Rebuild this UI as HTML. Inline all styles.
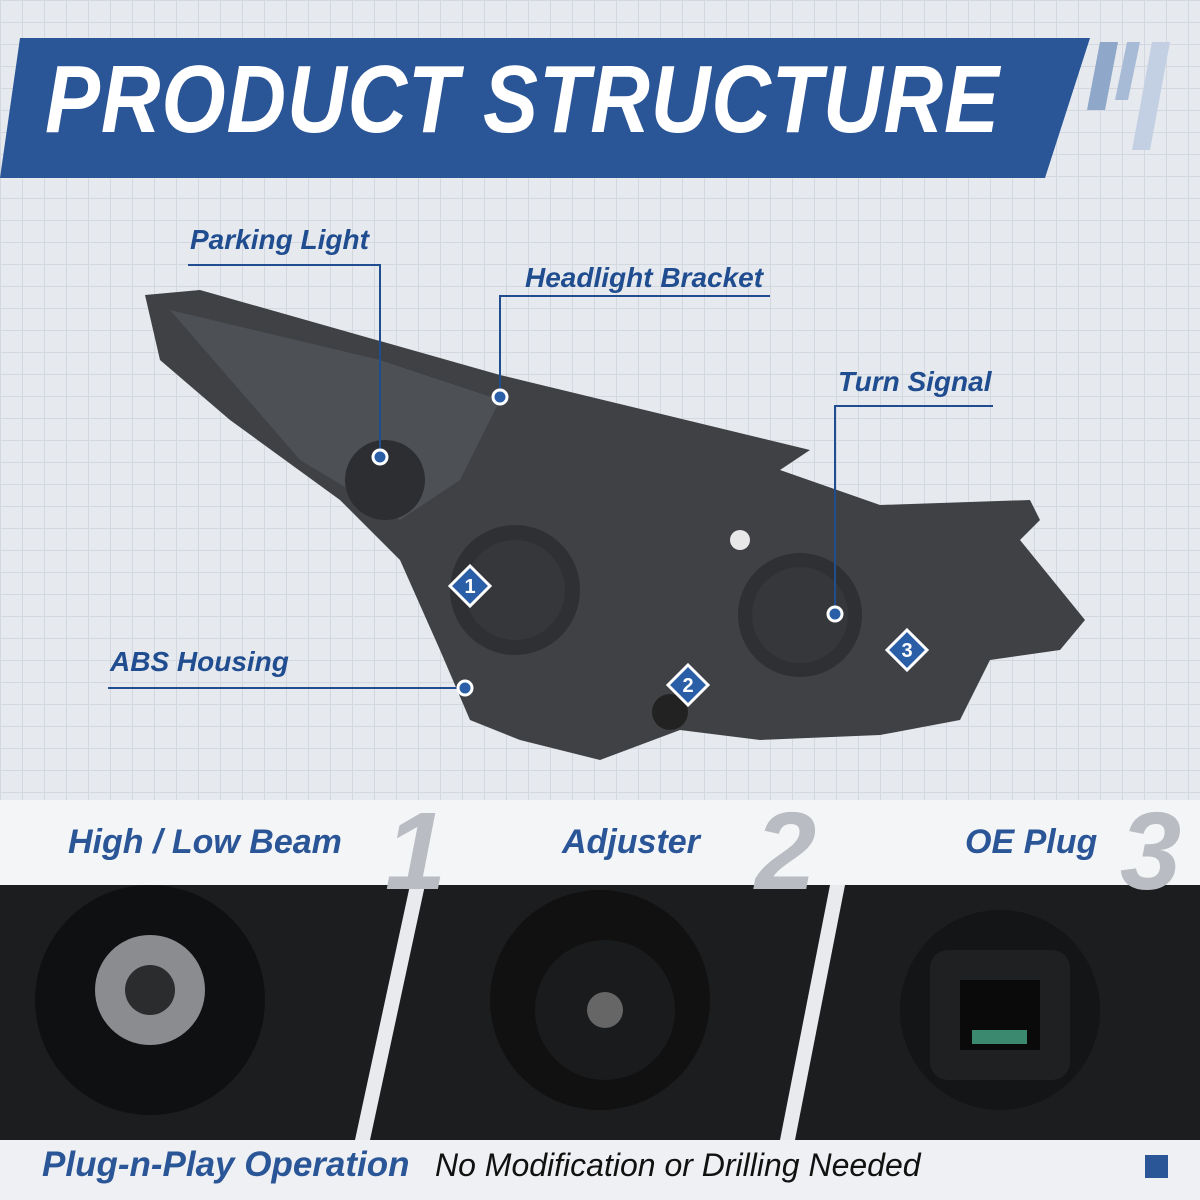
<!DOCTYPE html>
<html><head><meta charset="utf-8"><style>
html,body{margin:0;padding:0}
body{width:1200px;height:1200px;position:relative;overflow:hidden;background:#e8eaee;font-family:"Liberation Sans",sans-serif}
.grid{position:absolute;left:0;top:0;width:1200px;height:800px;background-color:#e6e9ee;
background-image:linear-gradient(#d3d8e0 1px,transparent 1px),linear-gradient(90deg,#d3d8e0 1px,transparent 1px);background-size:22px 22px}
.lbl{position:absolute;color:#1f4d8f;font-weight:bold;font-style:italic;font-size:28px;white-space:nowrap}
.big{position:absolute;color:#2a5597;font-style:italic;font-weight:bold;font-size:34px;white-space:nowrap}
.num{position:absolute;color:#b9bcc2;font-style:italic;font-weight:bold;font-size:110px;top:788px}
</style></head><body>
<div class="grid"></div>
<svg width="1200" height="1200" style="position:absolute;left:0;top:0">
<polygon points="20,38 1090,38 1045,178 0,178" fill="#2a5597"/>
<polygon points="1100,42 1118,42 1105,110 1087,110" fill="#8fa7c8"/>
<polygon points="1127,42 1140,42 1128,100 1115,100" fill="#a8bbd6"/>
<polygon points="1152,42 1170,42 1150,150 1132,150" fill="#c3d0e3"/>
<path d="M145,295 L200,290 L500,375 L810,450 L780,470 L880,505 L1030,500 L1040,520 L1020,540 L1085,620 L1060,650 L990,660 L960,720 L880,735 L760,740 L680,730 L600,760 L520,740 L470,720 L440,650 L400,560 L340,500 L230,420 L160,360 Z" fill="#3f4144"/>
<path d="M170,310 L380,360 L500,400 L460,480 L400,520 L300,460 Z" fill="#4d5054"/>
<circle cx="515" cy="590" r="65" fill="#2e3033"/><circle cx="515" cy="590" r="50" fill="#35373a"/>
<circle cx="800" cy="615" r="62" fill="#2e3033"/><circle cx="800" cy="615" r="48" fill="#35373a"/>
<circle cx="385" cy="480" r="40" fill="#2c2e31"/>
<circle cx="740" cy="540" r="10" fill="#e8e8e8"/>
<circle cx="670" cy="712" r="18" fill="#222"/>
<g stroke="#1f4d8f" stroke-width="2" fill="none">
<polyline points="188,265 380,265 380,457"/>
<polyline points="770,296 500,296 500,397"/>
<polyline points="993,406 835,406 835,614"/>
<polyline points="108,688 465,688"/>
</g>
<g fill="#2a5fa8" stroke="#fff" stroke-width="3">
<circle cx="380" cy="457" r="7"/><circle cx="500" cy="397" r="7"/><circle cx="835" cy="614" r="7"/><circle cx="465" cy="688" r="7"/>
</g>
<g font-family="Liberation Sans" font-weight="bold" font-size="20" fill="#fff" text-anchor="middle">
<polygon points="470,566 490,586 470,606 450,586" fill="#2a5fa8" stroke="#fff" stroke-width="3"/><text x="470" y="593">1</text>
<polygon points="688,665 708,685 688,705 668,685" fill="#2a5fa8" stroke="#fff" stroke-width="3"/><text x="688" y="692">2</text>
<polygon points="907,630 927,650 907,670 887,650" fill="#2a5fa8" stroke="#fff" stroke-width="3"/><text x="907" y="657">3</text>
</g>
<rect x="0" y="800" width="1200" height="85" fill="#f4f5f7"/>
<rect x="0" y="885" width="1200" height="255" fill="#1c1d1f"/>
<polygon points="410,885 425,885 370,1140 355,1140" fill="#e8eaee"/>
<polygon points="830,885 845,885 795,1140 780,1140" fill="#e8eaee"/>
<circle cx="150" cy="1000" r="115" fill="#0f1011"/><circle cx="150" cy="990" r="55" fill="#8a8c8f"/><circle cx="150" cy="990" r="25" fill="#2b2c2e"/>
<circle cx="600" cy="1000" r="110" fill="#111"/><circle cx="605" cy="1010" r="70" fill="#1a1b1c"/><circle cx="605" cy="1010" r="18" fill="#666"/>
<circle cx="1000" cy="1010" r="100" fill="#141516"/><rect x="930" y="950" width="140" height="130" rx="18" fill="#1f2021"/><rect x="960" y="980" width="80" height="70" fill="#0a0a0a"/><rect x="972" y="1030" width="55" height="14" fill="#3b8a70"/>
<rect x="0" y="1140" width="1200" height="60" fill="#eef0f3"/>
<rect x="1145" y="1155" width="23" height="23" fill="#2a5597"/>
</svg>
<div style="position:absolute;left:45px;top:45px;color:#fff;font-weight:bold;font-style:italic;font-size:96px;letter-spacing:1px;white-space:nowrap;transform:scaleX(0.86);transform-origin:left">PRODUCT STRUCTURE</div>
<div class="lbl" style="left:190px;top:224px">Parking Light</div>
<div class="lbl" style="left:525px;top:262px">Headlight Bracket</div>
<div class="lbl" style="left:838px;top:366px">Turn Signal</div>
<div class="lbl" style="left:110px;top:646px">ABS Housing</div>
<div class="big" style="left:68px;top:823px">High / Low Beam</div>
<div class="big" style="left:562px;top:823px">Adjuster</div>
<div class="big" style="left:965px;top:823px">OE Plug</div>
<div class="num" style="left:385px">1</div>
<div class="num" style="left:755px">2</div>
<div class="num" style="left:1120px">3</div>
<div style="position:absolute;left:42px;top:1145px;color:#2a5597;font-weight:bold;font-style:italic;font-size:35px;white-space:nowrap">Plug-n-Play Operation</div>
<div style="position:absolute;left:435px;top:1147px;color:#111;font-style:italic;font-size:32px;white-space:nowrap">No Modification or Drilling Needed</div>
</body></html>
